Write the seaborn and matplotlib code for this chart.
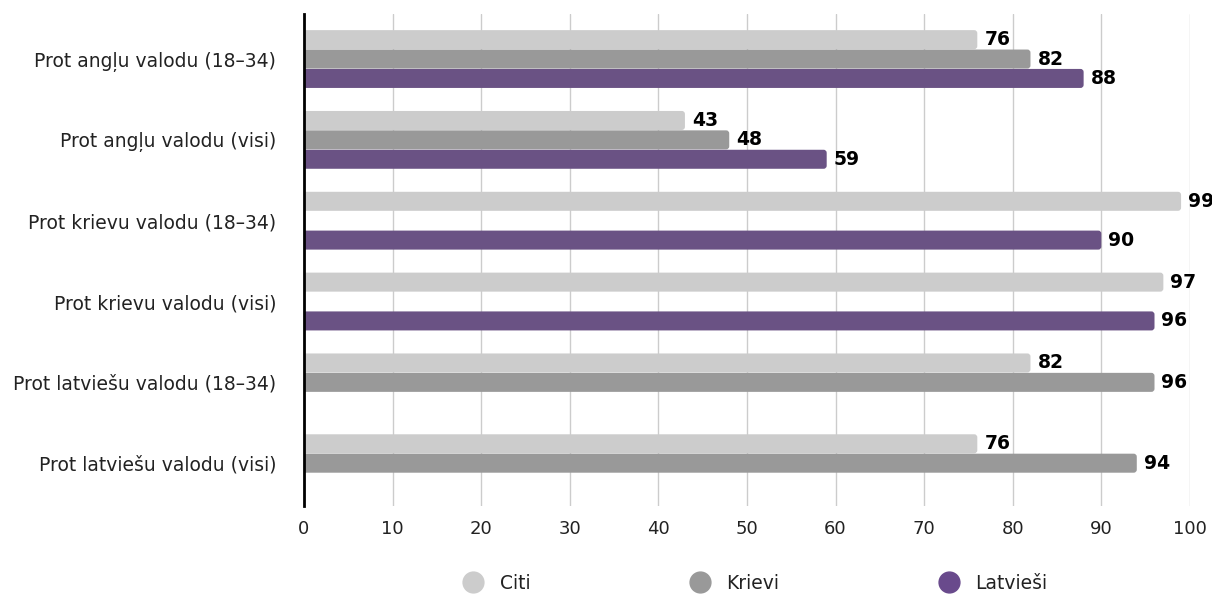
import matplotlib
matplotlib.use("Agg")
import matplotlib.pyplot as plt
from matplotlib.lines import Line2D
from matplotlib.patches import FancyBboxPatch
import numpy as np
import pandas as pd
import seaborn as sns

categories = [
    "Prot angļu valodu (18–34)",
    "Prot angļu valodu (visi)",
    "Prot krievu valodu (18–34)",
    "Prot krievu valodu (visi)",
    "Prot latviešu valodu (18–34)",
    "Prot latviešu valodu (visi)",
]
groups = ["Citi", "Krievi", "Latvieši"]
citi = [76, 43, 99, 97, 82, 76]
krievi = [82, 48, np.nan, np.nan, 96, 94]
latviesi = [88, 59, 90, 96, np.nan, np.nan]
colors = ["#cccccc", "#999999", "#694a8c"]

rows = []
for grp, vals in zip(groups, [citi, krievi, latviesi]):
    for cat, v in zip(categories, vals):
        rows.append({"kategorija": cat, "grupa": grp, "vertiba": v})
df = pd.DataFrame(rows).dropna()

sns.set_theme(style="white")
plt.rcParams["font.family"] = "sans-serif"
plt.rcParams["font.sans-serif"] = ["DejaVu Sans"]

fig = plt.figure(figsize=(12.12, 5.94), dpi=100)
ax = fig.add_axes([0.2508, 0.1481, 0.7310, 0.8283])

sns.barplot(
    data=df, x="vertiba", y="kategorija", hue="grupa",
    order=categories, hue_order=groups, palette=colors,
    orient="h", width=0.72, gap=0.02, errorbar=None, legend=False, ax=ax,
)

for cont in ax.containers:
    ax.bar_label(cont, fmt="%.0f", padding=5, fontsize=13.5, fontweight="bold",
                 color="black")

ax.set_xlim(0, 100)
ax.set_ylim(5.53, -0.557)

# rounded right ends: replace the rectangles, left end hidden past x=0
aspect = (6.087 / 492) / (100 / 886)
for bar in list(ax.patches):
    x, y = bar.get_x(), bar.get_y()
    w, h = bar.get_width(), bar.get_height()
    rounded = FancyBboxPatch(
        (x - 1, y), w + 1, h,
        boxstyle="round,pad=0,rounding_size=0.35",
        mutation_aspect=aspect,
        facecolor=bar.get_facecolor(), edgecolor="none", zorder=bar.get_zorder(),
    )
    ax.add_patch(rounded)
    bar.remove()

ax.set_xticks(range(0, 101, 10))
ax.xaxis.grid(True, color="#cccccc", linewidth=1)
ax.set_axisbelow(True)
ax.set_xlabel("")
ax.set_ylabel("")
ax.tick_params(axis="x", length=0, labelsize=13, colors="#222222", pad=10)
ax.tick_params(axis="y", length=0, labelsize=13.5, colors="#222222", pad=20)
for side in ["top", "right", "bottom"]:
    ax.spines[side].set_visible(False)
ax.spines["left"].set_color("black")
ax.spines["left"].set_linewidth(2)
ax.spines["left"].set_zorder(5)

handles = [
    Line2D([], [], marker="o", linestyle="", markersize=15,
           markerfacecolor=c, markeredgecolor=c)
    for c in colors
]
fig.legend(handles, groups, loc="center", bbox_to_anchor=(0.6196, 0.0185),
           ncol=3, frameon=False, columnspacing=8.05, handletextpad=0.4,
           labelcolor="#222222", fontsize=13.5)

fig.savefig("out.png", dpi=100)
